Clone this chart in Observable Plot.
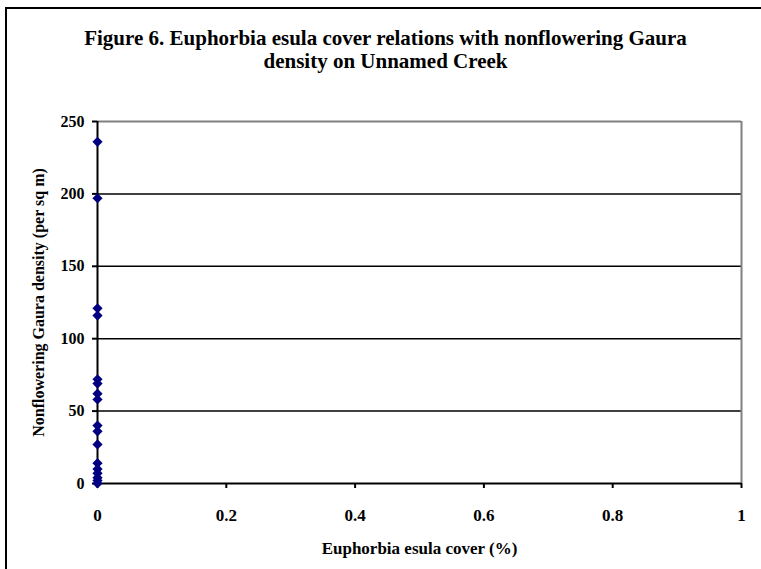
<!DOCTYPE html>
<html>
<head>
<meta charset="utf-8">
<script src="https://cdn.jsdelivr.net/npm/d3@7"></script>
<script src="https://cdn.jsdelivr.net/npm/@observablehq/plot@0.6"></script>
<style>
  html, body { margin: 0; padding: 0; background: #fff; width: 761px; height: 569px; overflow: hidden; }
  #frame { position: absolute; left: 5px; top: 7px; width: 800px; height: 600px; border: 2px solid #000; box-sizing: border-box; }
  #title { position: absolute; left: 10px; top: 27px; width: 751px; text-align: center;
           font-family: "Liberation Serif", "Times New Roman", serif; font-weight: bold; font-size: 21px; line-height: 23px; color: #000; }
  #chart { position: absolute; left: 0; top: 100px; }
</style>
</head>
<body>
<div id="frame"></div>
<div id="title">Figure 6. Euphorbia esula cover relations with nonflowering Gaura<br>density on Unnamed Creek</div>
<div id="chart"></div>
<script>
const coverPct = [0, 0, 0, 0, 0, 0, 0, 0, 0, 0, 0, 0, 0, 0, 0, 0, 0];
const gauraDensity = [236, 197, 121, 116, 72, 69, 62, 58, 40, 36, 27, 14, 10, 7, 4, 2, 0];
const xTicks = [0, 0.2, 0.4, 0.6, 0.8, 1];
const yTicks = [0, 50, 100, 150, 200, 250];
const gridValues = [50, 100, 150, 200];

const data = coverPct.map((c, i) => ({cover: c, density: gauraDensity[i]}));

const chart = Plot.plot({
  width: 761,
  height: 469,
  marginLeft: 97,
  marginRight: 20,
  marginTop: 21,
  marginBottom: 86,
  style: {fontFamily: '"Liberation Serif", "Times New Roman", serif', fontWeight: "bold", fontSize: "17px", color: "#000", background: "transparent"},
  x: {domain: [0, 1], ticks: xTicks, tickFormat: d => String(d)},
  y: {domain: [0, 250], ticks: yTicks},
  marks: [
    Plot.ruleY(gridValues, {stroke: "#000", strokeWidth: 1.5}),
    Plot.ruleY([250], {stroke: "#808080", strokeWidth: 2}),
    Plot.ruleX([1], {stroke: "#808080", strokeWidth: 2}),
    Plot.ruleY([0], {stroke: "#000", strokeWidth: 2}),
    Plot.ruleX([0], {stroke: "#000", strokeWidth: 2}),
    Plot.axisY({ticks: yTicks, tickSize: 5, tickPadding: 8, label: "Nonflowering Gaura density (per sq m)", labelAnchor: "center", labelArrow: false, labelOffset: 65, fontSize: 16, strokeWidth: 2}),
    Plot.axisX({ticks: xTicks, tickFormat: d => String(d), tickSize: 5, tickPadding: 20, label: "Euphorbia esula cover (%)", labelAnchor: "center", labelArrow: false, labelOffset: 70, fontSize: 17, strokeWidth: 2}),
    Plot.dot(data, {x: "cover", y: "density", symbol: "diamond2", r: 4.6, fill: "#000080", stroke: "none"})
  ]
});
document.getElementById("chart").appendChild(chart);
</script>
</body>
</html>
